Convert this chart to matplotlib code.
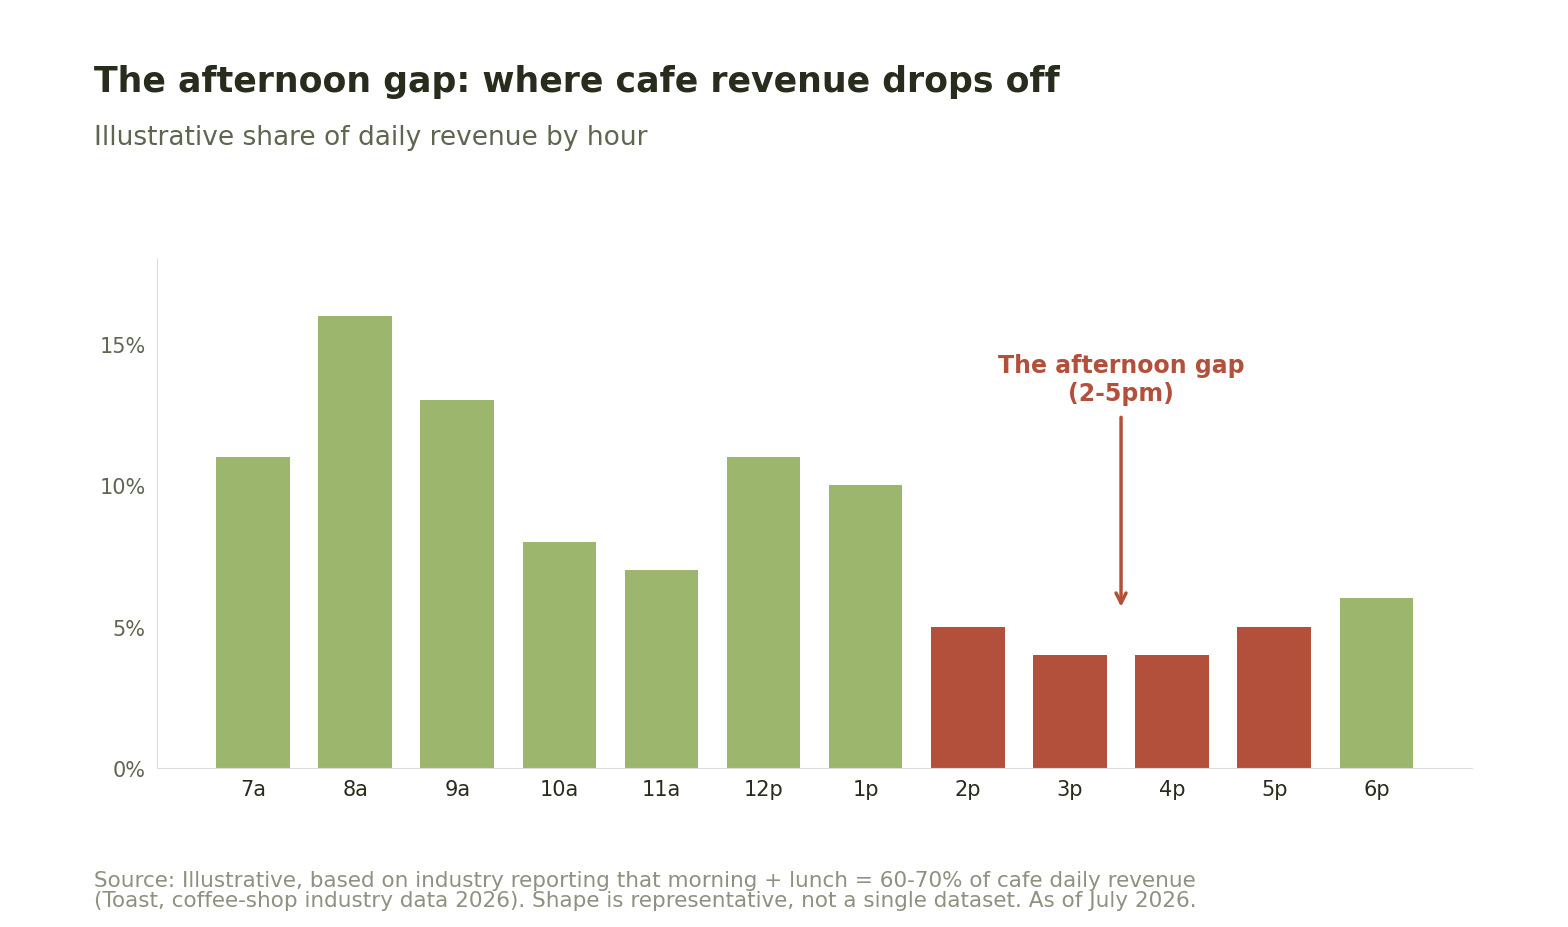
import matplotlib
matplotlib.use("Agg")
import matplotlib.pyplot as plt

hours = ["7a","8a","9a","10a","11a","12p","1p","2p","3p","4p","5p","6p"]
share = [11, 16, 13, 8, 7, 11, 10, 5, 4, 4, 5, 6]
gap_hours = ["2p","3p","4p","5p"]
yticks = [0, 5, 10, 15]

GREEN = "#9CB66E"; RED = "#B3503B"
fig = plt.figure(figsize=(15.68, 9.28), dpi=100)
ax = fig.add_axes([0.1001, 0.1713, 0.8389, 0.5485])
x = list(range(len(hours)))
colors = [RED if h in gap_hours else GREEN for h in hours]
ax.bar(x, share, width=0.72, color=colors)
ax.set_xlim(-0.94, 11.94)
ax.set_ylim(0, 18)
ax.set_xticks(x, hours)
ax.set_yticks(yticks, [f"{v}%" for v in yticks])
ax.tick_params(axis="x", length=0, labelsize=15, labelcolor="#272C1C", pad=8)
ax.tick_params(axis="y", length=0, labelsize=15, labelcolor="#5F6650", pad=8)
for s in ["top", "right"]:
    ax.spines[s].set_visible(False)
for s in ["left", "bottom"]:
    ax.spines[s].set_color("#DDDDDD")

ax.annotate("", xy=(8.5, 5.6), xytext=(8.5, 12.5),
            arrowprops=dict(arrowstyle="->", color=RED, lw=2.5, mutation_scale=18))
ax.text(8.5, 13.75, "The afternoon gap\n(2-5pm)", ha="center", va="center",
        color=RED, fontsize=17, fontweight="bold", linespacing=1.2)

fig.text(0.06, 0.912, "The afternoon gap: where cafe revenue drops off",
         fontsize=25, fontweight="bold", color="#272C1C", va="center")
fig.text(0.06, 0.851, "Illustrative share of daily revenue by hour",
         fontsize=19, color="#5F6650", va="center")
fig.text(0.06, 0.018, "Source: Illustrative, based on industry reporting that morning + lunch = 60-70% of cafe daily revenue\n(Toast, coffee-shop industry data 2026). Shape is representative, not a single dataset. As of July 2026.",
         fontsize=15.5, color="#8F9080", va="bottom", linespacing=1.0)
fig.savefig("out.png", dpi=100)
